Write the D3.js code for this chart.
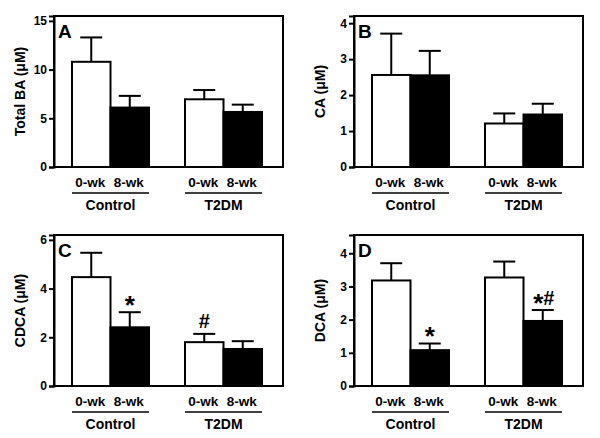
<!DOCTYPE html>
<html>
<head>
<meta charset="utf-8">
<script src="https://cdn.jsdelivr.net/npm/d3@7"></script>
<style>
  body { margin: 0; background: #fff; }
  svg { display: block; }
  text { font-family: "Liberation Sans", Arial, sans-serif; font-weight: bold; fill: #000; }
</style>
</head>
<body>
<svg id="chart" width="600" height="438"></svg>
<script>
// ---- Data ----
const groups = ["Control", "T2DM"];
const timepoints = ["0-wk", "8-wk"];
const panelLetters = ["A", "B", "C", "D"];
const yLabels = ["Total BA (\u03BCM)", "CA (\u03BCM)", "CDCA (\u03BCM)", "DCA (\u03BCM)"];

// order: Control 0-wk, Control 8-wk, T2DM 0-wk, T2DM 8-wk
const totalBAMean = [10.8, 6.1, 6.95, 5.65];
const totalBASem  = [2.5, 1.2, 0.95, 0.75];
const caMean      = [2.56, 2.55, 1.21, 1.46];
const caSem       = [1.15, 0.68, 0.28, 0.30];
const cdcaMean    = [4.47, 2.41, 1.80, 1.52];
const cdcaSem     = [1.00, 0.62, 0.34, 0.32];
const dcaMean     = [3.18, 1.08, 3.27, 1.96];
const dcaSem      = [0.52, 0.20, 0.48, 0.33];

const totalBATicks = [0, 5, 10, 15];
const caTicks      = [0, 1, 2, 3, 4];
const cdcaTicks    = [0, 2, 4, 6];
const dcaTicks     = [0, 1, 2, 3, 4];

const yMax = [15.5, 4.2, 6.2, 4.55];

const totalBAMarks = ["", "", "", ""];
const caMarks      = ["", "", "", ""];
const cdcaMarks    = ["", "*", "#", ""];
const dcaMarks     = ["", "*", "", "*#"];

const panels = [
  { mean: totalBAMean, sem: totalBASem, ticks: totalBATicks, marks: totalBAMarks },
  { mean: caMean, sem: caSem, ticks: caTicks, marks: caMarks },
  { mean: cdcaMean, sem: cdcaSem, ticks: cdcaTicks, marks: cdcaMarks },
  { mean: dcaMean, sem: dcaSem, ticks: dcaTicks, marks: dcaMarks }
];

// ---- Layout ----
const offsets = [[0, 0], [300, 0], [0, 219], [300, 219]];
const frame = { left: 54, right: 283, top: 16, bottom: 167 };

const svg = d3.select("#chart");

panels.forEach((p, i) => {
  const g = svg.append("g").attr("transform", `translate(${offsets[i][0]},${offsets[i][1]})`);

  const y = d3.scaleLinear().domain([0, yMax[i]]).range([frame.bottom, frame.top]);
  const xg = d3.scaleBand().domain(groups).range([72, 262]).paddingInner(36 / 113).paddingOuter(0);
  const xt = d3.scaleBand().domain(timepoints).range([0, xg.bandwidth()]).padding(0);

  const rows = [];
  groups.forEach((gr, gi) => timepoints.forEach((tp, ti) => {
    const k = gi * 2 + ti;
    rows.push({ group: gr, tp: tp, ti: ti, mean: p.mean[k], sem: p.sem[k], mark: p.marks[k] });
  }));

  // frame box
  g.append("rect")
    .attr("x", frame.left).attr("y", frame.top)
    .attr("width", frame.right - frame.left).attr("height", frame.bottom - frame.top)
    .attr("fill", "none").attr("stroke", "#000").attr("stroke-width", 2);

  // y axis
  const yAxis = d3.axisLeft(y).tickValues(p.ticks).tickSize(5).tickPadding(2).tickFormat(d3.format("d"));
  const ya = g.append("g").attr("transform", `translate(${frame.left},0)`).call(yAxis);
  ya.select(".domain").attr("stroke-width", 2);
  ya.selectAll(".tick line").attr("stroke-width", 2);
  ya.selectAll(".tick text").attr("font-size", 12);

  // error bars (upper only)
  const eb = g.append("g");
  rows.forEach(r => {
    const cx = xg(r.group) + xt(r.tp) + xt.bandwidth() / 2;
    eb.append("line").attr("x1", cx).attr("x2", cx)
      .attr("y1", y(r.mean)).attr("y2", y(r.mean + r.sem))
      .attr("stroke", "#000").attr("stroke-width", 2);
    eb.append("line").attr("x1", cx - 11).attr("x2", cx + 11)
      .attr("y1", y(r.mean + r.sem)).attr("y2", y(r.mean + r.sem))
      .attr("stroke", "#000").attr("stroke-width", 2);
  });

  // bars
  g.append("g").selectAll("rect").data(rows).join("rect")
    .attr("x", d => xg(d.group) + xt(d.tp))
    .attr("y", d => y(d.mean))
    .attr("width", xt.bandwidth())
    .attr("height", d => y(0) - y(d.mean))
    .attr("fill", d => d.ti === 0 ? "#fff" : "#000")
    .attr("stroke", "#000").attr("stroke-width", 2);

  // significance marks
  const mk = g.append("g").selectAll("text").data(rows.filter(r => r.mark)).join("text")
    .attr("x", d => xg(d.group) + xt(d.tp) + xt.bandwidth() / 2 + (d.mark.length > 1 ? 1 : 0))
    .attr("y", d => y(d.mean + d.sem) - 5.5)
    .attr("text-anchor", "middle");
  mk.each(function(d) {
    const t = d3.select(this);
    d.mark.split("").forEach(ch => {
      if (ch === "*") {
        t.append("tspan").attr("font-size", 26).attr("dy", 7).text(ch);
      } else {
        t.append("tspan").attr("font-size", 20).attr("dy", d.mark.length > 1 ? -7 : 0).text(ch);
      }
    });
  });

  // x labels
  rows.forEach(r => {
    g.append("text")
      .attr("x", xg(r.group) + xt(r.tp) + xt.bandwidth() / 2 - 1)
      .attr("y", 187)
      .attr("text-anchor", "middle").attr("font-size", 13.5)
      .text(r.tp);
  });
  groups.forEach(gr => {
    g.append("line")
      .attr("x1", xg(gr)).attr("x2", xg(gr) + xg.bandwidth())
      .attr("y1", 193).attr("y2", 193)
      .attr("stroke", "#000").attr("stroke-width", 1.6);
    g.append("text")
      .attr("x", xg(gr) + xg.bandwidth() / 2)
      .attr("y", 210)
      .attr("text-anchor", "middle").attr("font-size", 14)
      .text(gr);
  });

  // y label
  g.append("text")
    .attr("transform", `translate(25,${(frame.top + frame.bottom) / 2}) rotate(-90)`)
    .attr("text-anchor", "middle").attr("font-size", 14)
    .text(yLabels[i]);

  // panel letter
  g.append("text").attr("x", 58).attr("y", 38).attr("font-size", 19).text(panelLetters[i]);
});
</script>
</body>
</html>
